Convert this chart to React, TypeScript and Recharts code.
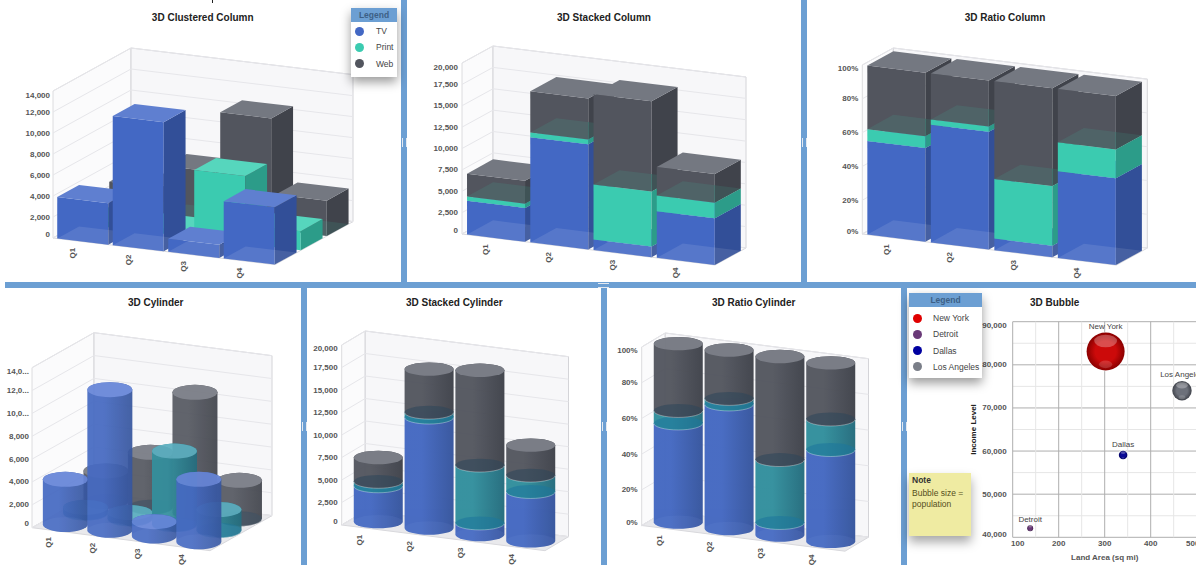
import { BarChart, Bar, XAxis, YAxis, ZAxis, CartesianGrid, ScatterChart, Scatter } from "recharts";

const quarters = ["Q1", "Q2", "Q3", "Q4"];
const seriesNames = ["TV", "Print", "Web"];
const tvValues = [3950, 12300, 1250, 5460];
const printValues = [500, 550, 6430, 1820];
const webValues = [2680, 4810, 10560, 3360];
const seriesValues = [tvValues, printValues, webValues];

const clusterTicks = [0, 2000, 4000, 6000, 8000, 10000, 12000, 14000];
const stackTicks = [0, 2500, 5000, 7500, 10000, 12500, 15000, 17500, 20000];
const ratioTicks = [0, 0.2, 0.4, 0.6, 0.8, 1];
const cylinderTickLabels = ["0", "2,000", "4,000", "6,000", "8,000", "10,0...", "12,0...", "14,0..."];

const cities = ["New York", "Detroit", "Dallas", "Los Angeles"];
const landArea = [302, 138, 340, 468];
const income = [83100, 42100, 59100, 74000];
const population = [8300, 207, 425, 2160];
const landTicks = [100, 150, 200, 250, 300, 350, 400, 450, 500];
const incomeTicks = [40000, 45000, 50000, 55000, 60000, 65000, 70000, 75000, 80000, 85000, 90000];

const FONT = "'Liberation Sans', Arial, sans-serif";
const BLUE_BAR = "#6c9fd3";
const TICK_FILL = "#555555";

const columnColors: any = {
  TV: { front: "#4368c4", side: "#324f98", top: "#5f7fd0", ghost: "#ffffff", ghostOpacity: 0.1 },
  Print: { front: "#3bcbb0", side: "#2c9c89", top: "#56d6bd", ghost: "#3bcbb0", ghostOpacity: 0 },
  Web: { front: "#52555e", side: "#40434b", top: "#747881", ghost: "#3bcbb0", ghostOpacity: 0.12 },
};
const cylinderColors: any = {
  TV: { left: "#466ac2", right: "#37569e", top: "#6685d8", ghost: "#7f9be0", ghostOpacity: 0.1 },
  Print: { left: "#34909e", right: "#256d7e", top: "#5aaebf", ghost: "#1f7a9c", ghostOpacity: 0.6 },
  Web: { left: "#565962", right: "#41444c", top: "#787b84", ghost: "#33475a", ghostOpacity: 0.6 },
};
const legendDots = ["#4368c4", "#3bcbb0", "#52555e"];
const bubbleColors = ["#cc0a0a", "#6a3a78", "#0a0a96", "#6c707a"];
const bubbleEdges = ["#8a0000", "#43204f", "#00005e", "#41444c"];

// one row per quarter, with a key per quarter + series so bars paint column by column
const layeredRows = quarters.map((name, i) => {
  const row: any = { name };
  quarters.forEach((q, k) => {
    seriesNames.forEach((s, j) => {
      row[`${q}_${s}`] = k === i ? seriesValues[j][i] : 0;
    });
  });
  return row;
});
const clusterRows = quarters.map((name, i) => ({
  name,
  TV: tvValues[i],
  Print: printValues[i],
  Web: webValues[i],
}));
const cityRows = cities.map((city, i) => ({
  city,
  land: landArea[i],
  income: income[i],
  pop: population[i],
}));

interface Panel { left: number; top: number; width: number; height: number; }

function makeGeo(panel: Panel, pageL: number, pageT: number, W: number, H: number, slope: number, dx: number, dy: number) {
  return { panel, L: pageL - panel.left, T: pageT - panel.top, W, H, slope, dx, dy };
}

const panels: Panel[] = [
  { left: 0, top: 0, width: 401, height: 282 },
  { left: 407, top: 0, width: 394, height: 282 },
  { left: 807, top: 0, width: 389, height: 282 },
  { left: 0, top: 288, width: 301, height: 277 },
  { left: 307, top: 288, width: 294, height: 277 },
  { left: 607, top: 288, width: 294, height: 277 },
  { left: 907, top: 288, width: 289, height: 277 },
];

const clusterGeo = makeGeo(panels[0], 53, 91, 222, 147, 0.12, 78, -43);
const stackGeo = makeGeo(panels[1], 462, 63, 253, 171, 0.1225, 31, -17);
const ratioGeo = makeGeo(panels[2], 862.3, 65, 254, 169, 0.1225, 31, -17);
const cylGeo = makeGeo(panels[3], 32, 367.7, 178, 160, 0.129, 62, -35);
const stackCylGeo = makeGeo(panels[4], 341.7, 345, 203.3, 180, 0.1263, 23.5, -14);
const ratioCylGeo = makeGeo(panels[5], 641.7, 347, 203.3, 178.5, 0.1263, 23.5, -14);

function pt(geo: any, px: number, py: number, z: number) {
  return `${px + z * geo.dx},${py + (px - geo.L) * geo.slope + z * geo.dy}`;
}

function ColumnShape(props: any) {
  const { y, width, height, geo, name, z0, depth, shift } = props;
  if (!height || height <= 0) return null;
  const x = props.x + shift;
  const c = columnColors[name];
  const z1 = z0 + depth;
  const r = x + width;
  const b = y + height;
  return (
    <g>
      <polygon points={[pt(geo, x, y, z0), pt(geo, r, y, z0), pt(geo, r, b, z0), pt(geo, x, b, z0)].join(" ")} fill={c.front} />
      <polygon points={[pt(geo, r, y, z0), pt(geo, r, y, z1), pt(geo, r, b, z1), pt(geo, r, b, z0)].join(" ")} fill={c.side} />
      <polygon
        points={[pt(geo, x, b, z0), pt(geo, r, b, z0), pt(geo, r, b, z1), pt(geo, x, b, z1)].join(" ")}
        fill={c.ghost}
        fillOpacity={c.ghostOpacity}
      />
      <polygon points={[pt(geo, x, y, z0), pt(geo, r, y, z0), pt(geo, r, y, z1), pt(geo, x, y, z1)].join(" ")} fill={c.top} />
    </g>
  );
}

function CylinderShape(props: any) {
  const { x, y, width, height, geo, name, z, ry, showTop, bodyOpacity } = props;
  if (!height || height <= 0) return null;
  const c = cylinderColors[name];
  const mid = x + width / 2;
  const cx = mid + z * geo.dx;
  const skew = (mid - geo.L) * geo.slope + z * geo.dy;
  const topY = y + skew;
  const botY = y + height + skew;
  const rx = width / 2;
  const body = `M${cx - rx},${topY} A${rx},${ry} 0 0 1 ${cx + rx},${topY} L${cx + rx},${botY} A${rx},${ry} 0 0 1 ${cx - rx},${botY} Z`;
  return (
    <g opacity={bodyOpacity}>
      <path d={body} fill={`url(#cyl-${name})`} />
      <ellipse cx={cx} cy={botY} rx={rx} ry={ry} fill={c.ghost} fillOpacity={c.ghostOpacity} />
      {name !== "TV" && (
        <path d={`M${cx - rx},${botY} A${rx},${ry} 0 0 0 ${cx + rx},${botY}`} fill="none" stroke="#ffffff" strokeOpacity={0.35} />
      )}
      {showTop && <ellipse cx={cx} cy={topY} rx={rx} ry={ry} fill={c.top} />}
    </g>
  );
}

function CylinderDefs() {
  return (
    <defs>
      {seriesNames.map((s) => (
        <linearGradient key={s} id={`cyl-${s}`} x1="0" y1="0" x2="1" y2="0">
          <stop offset="0" stopColor={cylinderColors[s].left} />
          <stop offset="0.35" stopColor={cylinderColors[s].left} />
          <stop offset="1" stopColor={cylinderColors[s].right} />
        </linearGradient>
      ))}
    </defs>
  );
}

// grid callback: first line also paints the walls, every line runs over left and back wall
function wallLines(geo: any, floorFill: string) {
  const { L, T, W, H, slope, dx, dy } = geo;
  const B = T + H;
  return (p: any) => {
    const yv = p.y1;
    return (
      <g key={p.key}>
        {p.index === 0 && (
          <g>
            <polygon points={`${L},${T} ${L + dx},${T + dy} ${L + dx},${B + dy} ${L},${B}`} fill="#fbfbfc" stroke="#dcdcde" />
            <polygon
              points={`${L + dx},${T + dy} ${L + dx + W},${T + dy + W * slope} ${L + dx + W},${B + dy + W * slope} ${L + dx},${B + dy}`}
              fill="#f7f7f9"
              stroke="#d4d4d8"
            />
            <polygon
              points={`${L},${B} ${L + dx},${B + dy} ${L + dx + W},${B + dy + W * slope} ${L + W},${B + W * slope}`}
              fill={floorFill}
              stroke="#d8d8dc"
            />
          </g>
        )}
        <polyline
          points={`${L},${yv} ${L + dx},${yv + dy} ${L + dx + W},${yv + dy + W * slope}`}
          fill="none"
          stroke="#e6e6ea"
        />
      </g>
    );
  };
}

function yTick(labelOf: (v: number) => string, nudge: number, lo: number, hi: number) {
  return (p: any) => {
    const v = p.payload.value;
    const dy = v === hi ? nudge : v === lo ? -nudge : 0;
    return (
      <text x={p.x} y={p.y + dy} textAnchor="end" dominantBaseline="central" fontSize={8} fontWeight={700} fill={TICK_FILL} fontFamily={FONT}>
        {labelOf(v)}
      </text>
    );
  };
}

function xTick(geo: any, back: number) {
  return (p: any) => {
    const floorY = geo.T + geo.H + (p.x - geo.L) * geo.slope;
    const tx = p.x - back;
    const ty = floorY + 6.5;
    return (
      <text x={tx} y={ty} textAnchor="end" dominantBaseline="central" transform={`rotate(-90 ${tx} ${ty})`} fontSize={8} fontWeight={700} fill={TICK_FILL} fontFamily={FONT}>
        {p.payload.value}
      </text>
    );
  };
}

const thousands = (v: number) => v.toLocaleString("en-US");
const percent = (v: number) => `${Math.round(v * 100)}%`;
const truncated = (v: number) => cylinderTickLabels[v / 2000];

function margins(geo: any) {
  return {
    top: geo.T,
    left: 0,
    right: geo.panel.width - geo.L - geo.W,
    bottom: geo.panel.height - geo.T - geo.H - 1,
  };
}

function PanelBox({ panel, title, titleX, children }: any) {
  const titleTop = panel.top === 0 ? 12 : 9;
  return (
    <div style={{ position: "absolute", left: panel.left, top: panel.top, width: panel.width, height: panel.height, overflow: "hidden" }}>
      {children}
      <div style={{ position: "absolute", left: titleX - panel.left - 100, top: titleTop, width: 200, textAlign: "center", font: `700 10px ${FONT}`, color: "#222" }}>
        {title}
      </div>
    </div>
  );
}

function Stacked3D({ geo, panel, ticks, domain, label, nudge, offset, cylinder }: any) {
  return (
    <BarChart
      width={panel.width}
      height={panel.height}
      data={layeredRows}
      margin={margins(geo)}
      stackOffset={offset}
      barCategoryGap={cylinder ? "2%" : "4%"}
    >
      {cylinder && <CylinderDefs />}
      <CartesianGrid vertical={false} horizontal={wallLines(geo, cylinder ? "#e9e9ec" : "#fcfcfc")} />
      <XAxis dataKey="name" height={1} tick={xTick(geo, 8)} axisLine={false} tickLine={false} interval={0} />
      <YAxis width={geo.L} domain={domain} ticks={ticks} tick={yTick(label, nudge, ticks[0], ticks[ticks.length - 1])} axisLine={false} tickLine={false} tickSize={0} tickMargin={4} interval={0} />
      {quarters.flatMap((q) =>
        seriesNames.map((s) => (
          <Bar
            key={`${q}_${s}`}
            dataKey={`${q}_${s}`}
            stackId="a"
            isAnimationActive={false}
            shape={(p: any) =>
              cylinder ? (
                <CylinderShape {...p} geo={geo} name={s} z={0.47} ry={6.7} showTop={s === "Web"} bodyOpacity={0.98} />
              ) : (
                <ColumnShape {...p} geo={geo} name={s} z0={0} depth={0.84} shift={2.5} />
              )
            }
          />
        ))
      )}
    </BarChart>
  );
}

function Clustered3D({ geo, panel, ticks, label, cylinder }: any) {
  // back row first; each series has its own x axis so the columns keep the full band
  const rows = [
    { s: "Web", axis: "web", z0: 2 / 3, z: 0.83 },
    { s: "Print", axis: "print", z0: 1 / 3, z: 0.5 },
    { s: "TV", axis: 0, z0: 0, z: 0.175 },
  ];
  return (
    <BarChart width={panel.width} height={panel.height} data={clusterRows} margin={margins(geo)} barCategoryGap={cylinder ? "0%" : "4%"}>
      {cylinder && <CylinderDefs />}
      <CartesianGrid vertical={false} horizontal={wallLines(geo, cylinder ? "#e9e9ec" : "#fcfcfc")} />
      <XAxis dataKey="name" height={1} tick={xTick(geo, cylinder ? 6 : 8)} axisLine={false} tickLine={false} interval={0} />
      <XAxis xAxisId="print" dataKey="name" hide />
      <XAxis xAxisId="web" dataKey="name" hide />
      <YAxis width={geo.L} domain={[0, 14000]} ticks={ticks} tick={yTick(label, 4, 0, 14000)} axisLine={false} tickLine={false} tickSize={0} tickMargin={3} interval={0} />
      {rows.map((r) => (
        <Bar
          key={r.s}
          dataKey={r.s}
          xAxisId={r.axis}
          isAnimationActive={false}
          shape={(p: any) =>
            cylinder ? (
              <CylinderShape {...p} geo={geo} name={r.s} z={r.z} ry={7.5} showTop bodyOpacity={0.93} />
            ) : (
              <ColumnShape {...p} geo={geo} name={r.s} z0={r.z0} depth={0.28} shift={2} />
            )
          }
        />
      ))}
    </BarChart>
  );
}

function Bubble(props: any) {
  const { cx, cy, size, index } = props;
  const r = Math.sqrt(size / Math.PI);
  const i = cities.indexOf(props.city ?? props.payload?.city ?? cities[index]);
  return (
    <g>
      <circle cx={cx} cy={cy} r={r + 0.8} fill="#ffffff" fillOpacity={0.7} />
      <circle cx={cx} cy={cy} r={r} fill={`url(#bubble-${i})`} />
      <ellipse cx={cx} cy={cy - r * 0.55} rx={r * 0.6} ry={r * 0.33} fill="#ffffff" fillOpacity={0.28} />
      <ellipse cx={cx} cy={cy + r * 0.68} rx={r * 0.35} ry={r * 0.2} fill="#ffffff" fillOpacity={0.16} />
      <text x={cx} y={cy - r - 6} textAnchor="middle" dominantBaseline="central" fontSize={8} fill="#444" fontFamily={FONT}>
        {cities[i]}
      </text>
    </g>
  );
}

function BubbleChart({ panel }: any) {
  return (
    <ScatterChart width={300} height={panel.height} margin={{ top: 33.7, left: 0, right: 10.3, bottom: 0 }}>
      <defs>
        {cities.map((c, i) => (
          <radialGradient key={c} id={`bubble-${i}`} cx="0.5" cy="0.5" r="0.5">
            <stop offset="0.55" stopColor={bubbleColors[i]} />
            <stop offset="1" stopColor={bubbleEdges[i]} />
          </radialGradient>
        ))}
      </defs>
      <CartesianGrid
        horizontal={(p: any) => (
          <line key={p.key} x1={p.x1} x2={p.x2} y1={p.y1} y2={p.y2} stroke={p.index % 2 === 0 ? "#aeaeae" : "#e6e6e6"} />
        )}
        vertical={(p: any) => (
          <line key={p.key} x1={p.x1} x2={p.x2} y1={p.y1} y2={p.y2} stroke={p.index % 2 === 0 ? "#aeaeae" : "#e6e6e6"} />
        )}
      />
      <XAxis
        type="number"
        dataKey="land"
        domain={[100, 500]}
        ticks={landTicks}
        height={27.7}
        interval={0}
        axisLine={false}
        tickLine={false}
        label={{ value: "Land Area (sq mi)", position: "insideBottom", offset: 5, fontSize: 8, fontWeight: 700, fill: TICK_FILL, fontFamily: FONT }}
        tick={(p: any) => {
          const v = p.payload.value;
          if (v % 100 !== 0) return <g />;
          const shift = v === 100 ? 5 : v === 500 ? -4 : 0;
          return (
            <text x={p.x + shift} y={543.5 - panel.top} textAnchor="middle" dominantBaseline="central" fontSize={8} fontWeight={700} fill={TICK_FILL} fontFamily={FONT}>
              {v}
            </text>
          );
        }}
      />
      <YAxis
        type="number"
        dataKey="income"
        domain={[40000, 90000]}
        ticks={incomeTicks}
        width={105.7}
        interval={0}
        axisLine={false}
        tickLine={false}
        tickSize={0}
        tickMargin={6}
        label={{ value: "Income Level", angle: -90, position: "insideLeft", offset: 66, fontSize: 8, fontWeight: 700, fill: "#222", fontFamily: FONT, style: { textAnchor: "middle" } }}
        tick={(p: any) => {
          const v = p.payload.value;
          if (v % 10000 !== 0) return <g />;
          const dy = v === 90000 ? 3.3 : v === 40000 ? -3.3 : 0;
          return (
            <text x={p.x} y={p.y + dy} textAnchor="end" dominantBaseline="central" fontSize={8} fontWeight={700} fill={TICK_FILL} fontFamily={FONT}>
              {thousands(v)}
            </text>
          );
        }}
      />
      <ZAxis type="number" dataKey="pop" domain={[0, 8300]} range={[0, 1134]} />
      {cityRows.map((row) => (
        <Scatter key={row.city} data={[row]} isAnimationActive={false} shape={(p: any) => <Bubble {...p} />} />
      ))}
    </ScatterChart>
  );
}

function LegendBox({ left, top, width, names, colors, textX, rowStart, rowStep, height }: any) {
  return (
    <div style={{ position: "absolute", left, top, width, height, background: "#fff", boxShadow: "0 5px 10px rgba(0,0,0,0.4)", font: `8.5px ${FONT}`, color: "#444" }}>
      <div style={{ height: 14, lineHeight: "14px", background: BLUE_BAR, textAlign: "center", fontWeight: 700, color: "#3d5f86", fontSize: 8.5 }}>Legend</div>
      {names.map((n: string, i: number) => (
        <div key={n}>
          <span style={{ position: "absolute", left: 4, top: rowStart + i * rowStep - 4.5, width: 9, height: 9, borderRadius: "50%", background: colors[i] }} />
          <span style={{ position: "absolute", left: textX, top: rowStart + i * rowStep - 5, lineHeight: "10px", whiteSpace: "nowrap" }}>{n}</span>
        </div>
      ))}
    </div>
  );
}

function Handle({ x, y }: any) {
  return (
    <div style={{ position: "absolute", left: x, top: y, width: 3, height: 9, borderLeft: "1px solid #e4e9f0", borderRight: "1px solid #e4e9f0" }} />
  );
}

export default function App() {
  return (
    <div style={{ position: "fixed", left: 0, top: 0, width: 1196, height: 565, overflow: "hidden", background: "#fff", fontFamily: FONT }}>
      <PanelBox panel={panels[0]} title="3D Clustered Column" titleX={202.7}>
        <Clustered3D geo={clusterGeo} panel={panels[0]} ticks={clusterTicks} label={thousands} />
      </PanelBox>
      <PanelBox panel={panels[1]} title="3D Stacked Column" titleX={604}>
        <Stacked3D geo={stackGeo} panel={panels[1]} ticks={stackTicks} domain={[0, 20000]} label={thousands} nudge={4} />
      </PanelBox>
      <PanelBox panel={panels[2]} title="3D Ratio Column" titleX={1005}>
        <Stacked3D geo={ratioGeo} panel={panels[2]} ticks={ratioTicks} domain={[0, 1]} label={percent} nudge={3} offset="expand" />
      </PanelBox>
      <PanelBox panel={panels[3]} title="3D Cylinder" titleX={155.7}>
        <Clustered3D geo={cylGeo} panel={panels[3]} ticks={clusterTicks} label={truncated} cylinder />
      </PanelBox>
      <PanelBox panel={panels[4]} title="3D Stacked Cylinder" titleX={454.3}>
        <Stacked3D geo={stackCylGeo} panel={panels[4]} ticks={stackTicks} domain={[0, 20000]} label={thousands} nudge={3.5} cylinder />
      </PanelBox>
      <PanelBox panel={panels[5]} title="3D Ratio Cylinder" titleX={753.7}>
        <Stacked3D geo={ratioCylGeo} panel={panels[5]} ticks={ratioTicks} domain={[0, 1]} label={percent} nudge={3.5} offset="expand" cylinder />
      </PanelBox>
      <PanelBox panel={panels[6]} title="3D Bubble" titleX={1054.7}>
        <BubbleChart panel={panels[6]} />
      </PanelBox>

      {/* splitters */}
      <div style={{ position: "absolute", left: 5, top: 282, width: 1191, height: 6, background: BLUE_BAR }} />
      <div style={{ position: "absolute", left: 401, top: 0, width: 6, height: 282, background: BLUE_BAR }} />
      <div style={{ position: "absolute", left: 801, top: 0, width: 6, height: 282, background: BLUE_BAR }} />
      <div style={{ position: "absolute", left: 301, top: 288, width: 6, height: 277, background: BLUE_BAR }} />
      <div style={{ position: "absolute", left: 601, top: 288, width: 6, height: 277, background: BLUE_BAR }} />
      <div style={{ position: "absolute", left: 901, top: 288, width: 6, height: 277, background: BLUE_BAR }} />
      <Handle x={402} y={138} />
      <Handle x={802} y={138} />
      <Handle x={302} y={422} />
      <Handle x={602} y={422} />
      <Handle x={902} y={422} />
      <div style={{ position: "absolute", left: 598, top: 283, width: 11, height: 3, borderTop: "1px solid #e4e9f0", borderBottom: "1px solid #e4e9f0" }} />
      <div style={{ position: "absolute", left: 212, top: 0, width: 1, height: 3, background: "#222" }} />

      <LegendBox left={351} top={8} width={46} height={69} names={seriesNames} colors={legendDots} textX={25} rowStart={23} rowStep={16.3} />
      <LegendBox left={909} top={293} width={73} height={85} names={cities} colors={["#e00000", "#6a3a78", "#0000a0", "#7a7e88"]} textX={24} rowStart={25} rowStep={16.3} />

      <div style={{ position: "absolute", left: 909, top: 473, width: 62, height: 63, background: "#efeba2", boxShadow: "0 6px 10px rgba(0,0,0,0.35)", font: `8.5px/11px ${FONT}`, color: "#554f20" }}>
        <div style={{ padding: "2px 0 0 3px", fontWeight: 700, color: "#333" }}>Note</div>
        <div style={{ padding: "2px 0 0 3px" }}>Bubble size = population</div>
      </div>
    </div>
  );
}
